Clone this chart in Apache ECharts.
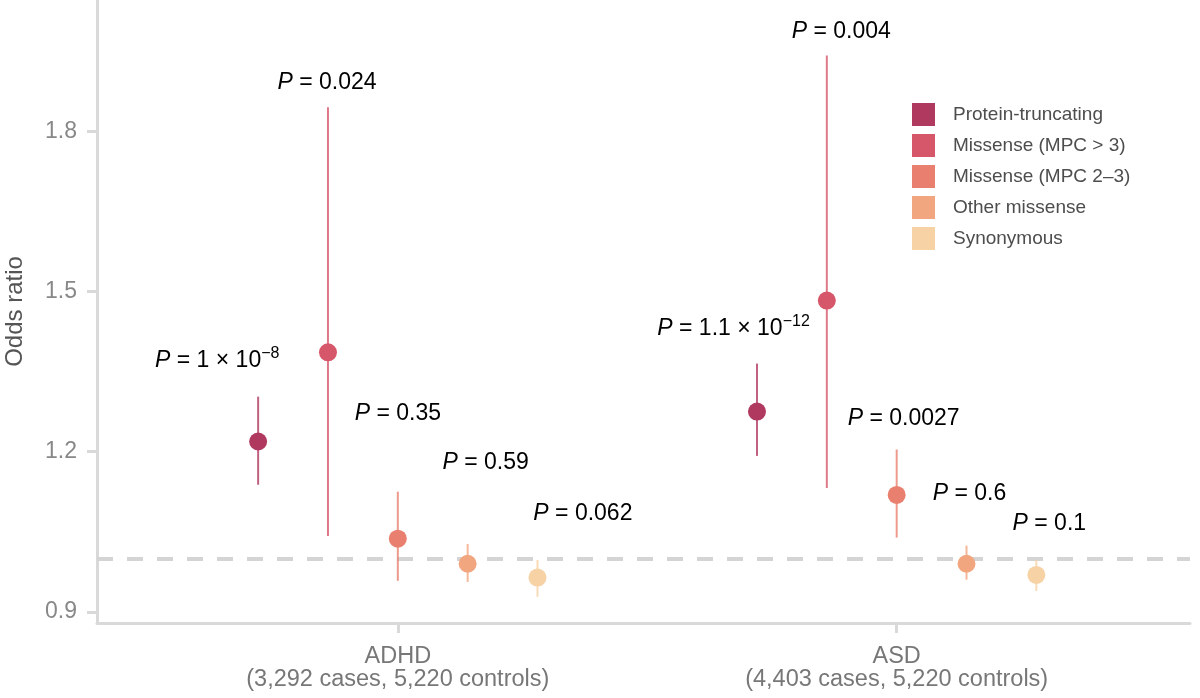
<!DOCTYPE html>
<html>
<head>
<meta charset="utf-8">
<script src="https://cdn.jsdelivr.net/npm/echarts@6/dist/echarts.min.js"></script>
<style>html,body{margin:0;padding:0;background:#fff}#c{width:1200px;height:698px}</style>
</head>
<body>
<div id="c"></div>
<script>
// ---- data ----
const groups = ['ADHD', 'ASD'];
const groupSubtitles = ['(3,292 cases, 5,220 controls)', '(4,403 cases, 5,220 controls)'];
const variantClasses = ['Protein-truncating', 'Missense (MPC > 3)', 'Missense (MPC 2\u20133)', 'Other missense', 'Synonymous'];
const classColors = ['#b0395f', '#d6566a', '#e97f6e', '#f2a67f', '#f6d2a5'];
// odds ratios per class: [ADHD, ASD]
const oddsPTV = [1.219, 1.275];
const oddsMis3 = [1.386, 1.483];
const oddsMis23 = [1.037, 1.119];
const oddsOther = [0.990, 0.990];
const oddsSyn = [0.964, 0.969];
// 95% CI lower / upper
const lowPTV = [1.138, 1.192], highPTV = [1.303, 1.365];
const lowMis3 = [1.042, 1.132], highMis3 = [1.845, 1.942];
const lowMis23 = [0.958, 1.039], highMis23 = [1.125, 1.204];
const lowOther = [0.956, 0.960], highOther = [1.027, 1.024];
const lowSyn = [0.928, 0.939], highSyn = [0.997, 0.997];
// P-value labels (rich text) per class [ADHD, ASD]
const pPTV = ['{i|P} = 1 \u00d7 10{s|\u22128}', '{i|P} = 1.1 \u00d7 10{s|\u221212}'];
const pMis3 = ['{i|P} = 0.024', '{i|P} = 0.004'];
const pMis23 = ['{i|P} = 0.35', '{i|P} = 0.0027'];
const pOther = ['{i|P} = 0.59', '{i|P} = 0.6'];
const pSyn = ['{i|P} = 0.062', '{i|P} = 0.1'];
// label anchor (data coords) [ADHD, ASD]
const labX = [[0.638, 1.673], [0.858, 1.889], [1.000, 2.014], [1.176, 2.146], [1.371, 2.306]];
const labY = [[1.371, 1.431], [1.892, 1.986], [1.271, 1.262], [1.179, 1.121], [1.084, 1.065]];
const yTicks = [0.9, 1.2, 1.5, 1.8];
const nullOR = 1.0;

const odds = [oddsPTV, oddsMis3, oddsMis23, oddsOther, oddsSyn];
const lows = [lowPTV, lowMis3, lowMis23, lowOther, lowSyn];
const highs = [highPTV, highMis3, highMis23, highOther, highSyn];
const pLabs = [pPTV, pMis3, pMis23, pOther, pSyn];
const dodge = [-0.28, -0.14, 0, 0.14, 0.28];
const FONT = 'Liberation Sans, Arial, sans-serif';

const series = [];
variantClasses.forEach((name, k) => {
  series.push({
    type: 'custom', name: name, z: 2, silent: true,
    data: groups.map((g, i) => [i + 1 + dodge[k], lows[k][i], highs[k][i]]),
    renderItem: (params, api) => {
      const a = api.coord([api.value(0), api.value(1)]);
      const b = api.coord([api.value(0), api.value(2)]);
      return { type: 'line', shape: { x1: a[0], y1: a[1], x2: b[0], y2: b[1] },
        style: { stroke: classColors[k], lineWidth: 2, opacity: 0.8 } };
    }
  });
  series.push({
    type: 'scatter', name: name, z: 3, symbolSize: 18,
    itemStyle: { color: classColors[k], opacity: 1 },
    data: groups.map((g, i) => [i + 1 + dodge[k], odds[k][i]])
  });
});
const labData = [];
variantClasses.forEach((n, k) => groups.forEach((g, i) => labData.push([labX[k][i], labY[k][i], pLabs[k][i]])));
series.push({
  type: 'custom', name: 'labels', z: 4, silent: true,
  data: labData,
  renderItem: (params, api) => {
    const p = api.coord([api.value(0), api.value(1)]);
    return { type: 'text', x: p[0], y: p[1],
      style: { text: labData[params.dataIndex][2], align: 'center', verticalAlign: 'middle',
        fill: '#000', fontSize: 23, fontFamily: FONT, lineHeight: 30,
        rich: {
          i: { fontStyle: 'italic', fontSize: 23, fill: '#000', fontFamily: FONT, lineHeight: 30 },
          s: { fontSize: 16, fill: '#000', fontFamily: FONT, verticalAlign: 'top', lineHeight: 30, padding: [0, 0, 6, 0] }
        } } };
  }
});
series.push({
  type: 'line', name: 'null', data: [], silent: true,
  markLine: { symbol: 'none', silent: true, label: { show: false },
    lineStyle: { color: '#d4d4d4', type: [16, 14], width: 4 },
    data: [{ yAxis: nullOR }], z: 1 }
});

const chart = echarts.init(document.getElementById('c'), null, { renderer: 'canvas' });
chart.setOption({
  animation: false,
  backgroundColor: '#fff',
  grid: { left: 97, right: 10, top: 0, bottom: 75, containLabel: false, outerBoundsMode: 'none' },
  legend: {
    data: variantClasses.map((n, k) => ({ name: n, itemStyle: { color: classColors[k] } })),
    orient: 'vertical', left: 907, top: 98, icon: 'rect',
    itemWidth: 23, itemHeight: 23, itemGap: 8,
    textStyle: { fontSize: 19, color: '#4d4d4d', fontFamily: FONT, padding: [0, 0, 0, 13] }
  },
  xAxis: {
    type: 'value', min: 0.397, max: 2.588,
    splitLine: { show: false },
    axisLine: { show: true, lineStyle: { color: '#d9d9d9', width: 3 } },
    axisTick: { show: true, customValues: [1, 2], length: 10, lineStyle: { color: '#d9d9d9', width: 3 } },
    axisLabel: { customValues: [1, 2], formatter: v => groups[Math.round(v) - 1] + '\n' + groupSubtitles[Math.round(v) - 1],
      color: '#777', fontSize: 23.5, lineHeight: 23, margin: 22, fontFamily: FONT }
  },
  yAxis: {
    type: 'value', min: 0.879, max: 2.046,
    name: 'Odds ratio', nameLocation: 'middle', nameGap: 70, nameRotate: 90,
    nameTextStyle: { color: '#555', fontSize: 24, fontFamily: FONT },
    splitLine: { show: false },
    axisLine: { show: true, lineStyle: { color: '#d9d9d9', width: 3 } },
    axisTick: { show: true, customValues: yTicks, length: 10, lineStyle: { color: '#d9d9d9', width: 3 } },
    axisLabel: { customValues: yTicks, formatter: v => v.toFixed(1), color: '#888', fontSize: 23, margin: 20, fontFamily: FONT }
  },
  series: series
});
</script>
</body>
</html>
